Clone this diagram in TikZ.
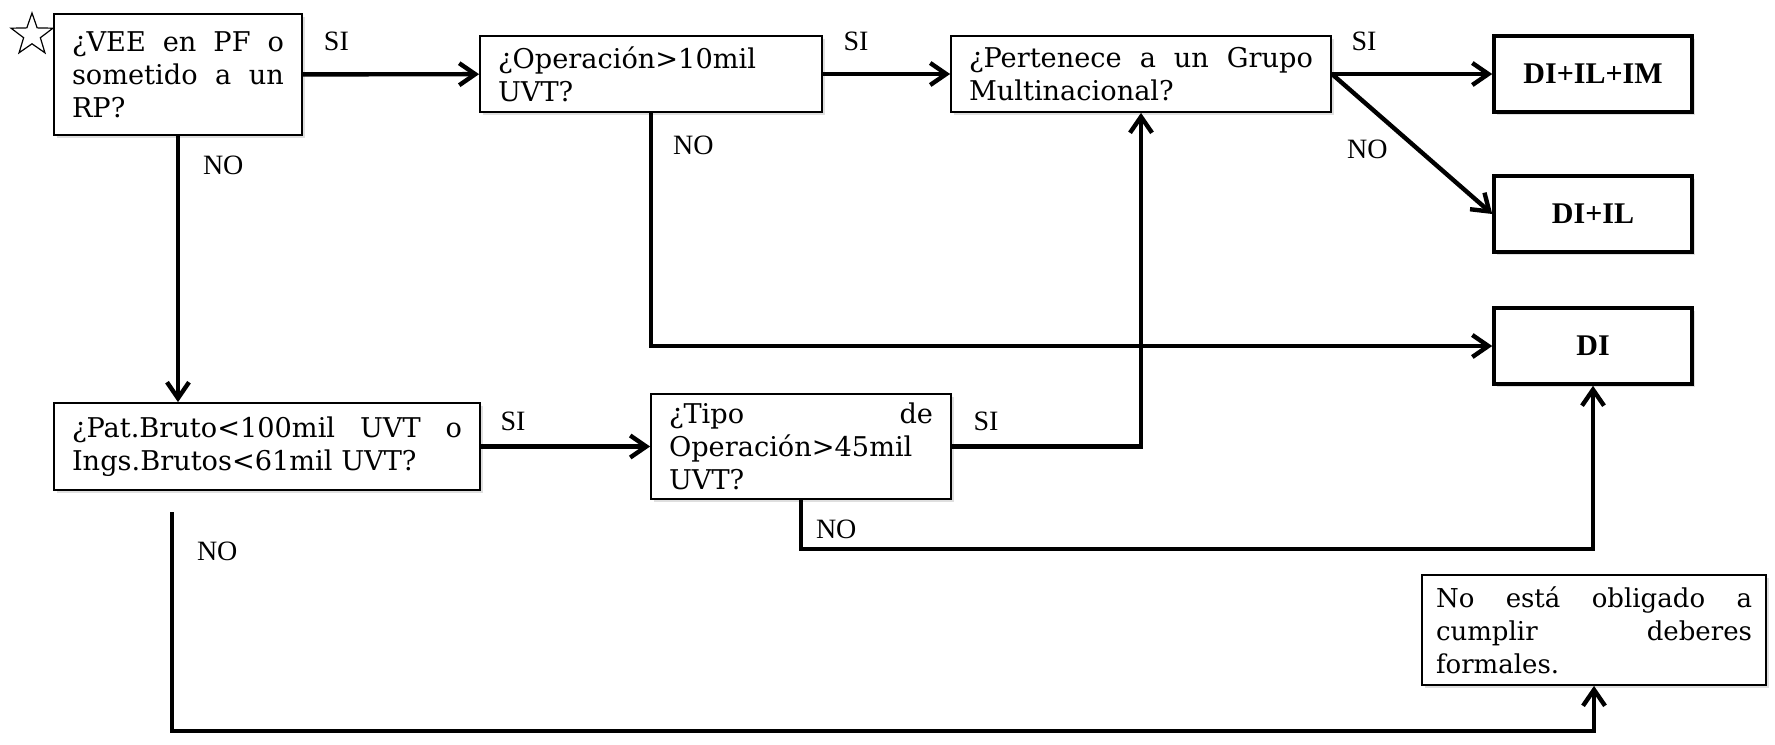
\documentclass[tikz,border=0pt]{standalone}
\usepackage{fontspec}
\setmainfont{DejaVu Serif}
\newfontfamily\labfont{Liberation Serif}
\usetikzlibrary{arrows.meta,shapes.geometric,shadows}

\begin{document}
\hyphenpenalty=10000
\exhyphenpenalty=10000
\tolerance=9999
\emergencystretch=3em
\begin{tikzpicture}[x=0.5pt,y=-0.5pt,
    qbox/.style={draw,line width=0.9pt,fill=white,align=justify,inner xsep=9pt,
      font=\fontsize{13.6}{16.5}\selectfont,
      drop shadow={shadow xshift=1.5pt,shadow yshift=-1.5pt,opacity=0.25}},
    rbox/.style={draw,line width=1.8pt,fill=white,minimum width=99pt,minimum height=38pt,
      font=\labfont\bfseries\fontsize{15}{18}\selectfont,
      drop shadow={shadow xshift=1.5pt,shadow yshift=-1.5pt,opacity=0.25}},
    flow/.style={line width=2.2pt,-{Straight Barb[length=8pt,width=11pt]}},
    lab/.style={font=\labfont\fontsize{14}{16}\selectfont,inner sep=2pt}]

  \useasboundingbox (0,0) rectangle (1775,744);

  \node[draw,star,star points=5,star point ratio=2.5,minimum size=22pt,
        inner sep=0pt,line width=0.6pt] (star) at (32,35) {};

  \node[qbox,text width=106pt,minimum height=60.5pt] (vee)   at (178,74.5) {¿VEE en PF o\linebreak sometido a un\linebreak RP?};
  \node[qbox,text width=153pt,minimum height=38pt]   (oper)  at (651,74)   {¿Operación>10mil UVT?};
  \node[qbox,text width=172pt,minimum height=38pt]   (grupo) at (1141,74)  {¿Pertenece a un Grupo\linebreak Multinacional?};
  \node[qbox,text width=195pt,minimum height=43.5pt] (pat)   at (267,446.5) {¿Pat.Bruto<100mil UVT o\linebreak Ings.Brutos<61mil UVT?};
  \node[qbox,text width=132pt,minimum height=52.5pt] (tipo)  at (801,446.5) {¿Tipo de\linebreak Operación>45mil UVT?};
  \node[qbox,text width=158pt,inner xsep=7pt,minimum height=55pt,font=\fontsize{13}{16.5}\selectfont]
    (noobl) at (1594,630) {No está obligado a\linebreak cumplir deberes\linebreak formales.};

  \node[rbox] (dililim) at (1593,74)  {DI+IL+IM};
  \node[rbox] (diil)    at (1593,214) {DI+IL};
  \node[rbox] (di)      at (1593,346) {DI};

  \coordinate (patout) at (172,512);

  \draw[flow] (vee) -- node[lab,above=8.5pt,pos=0.19] {SI} (oper);
  \draw[flow] (oper) -- node[lab,above=8.5pt,pos=0.26] {SI} (grupo);
  \draw[flow] (grupo.east) -- node[lab,above=8.5pt,pos=0.2] {SI} (dililim);
  \draw[flow] (grupo.east) -- node[lab,left=12.4pt,pos=0.54] {NO} (diil.west);
  \draw[flow] (oper.south) |- node[lab,right=8pt,pos=0.07] {NO} (di.west);
  \draw[flow] (vee.south) -- node[lab,right=9.4pt,pos=0.11] {NO} (vee.south |- pat.north);
  \draw[flow] (pat) -- node[lab,above=5pt,pos=0.19] {SI} (tipo);
  \draw[flow] (tipo.east) -| node[lab,above=5pt,pos=0.09] {SI} (grupo.south);
  \draw[flow] (tipo.south) -- node[lab,right=4.4pt,pos=0.61] {NO} ++(0,49) -| (di.south);
  \draw[flow] (patout) -- node[lab,right=9.4pt,pos=0.18] {NO} ++(0,219) -| (noobl.south);

\end{tikzpicture}
\end{document}
